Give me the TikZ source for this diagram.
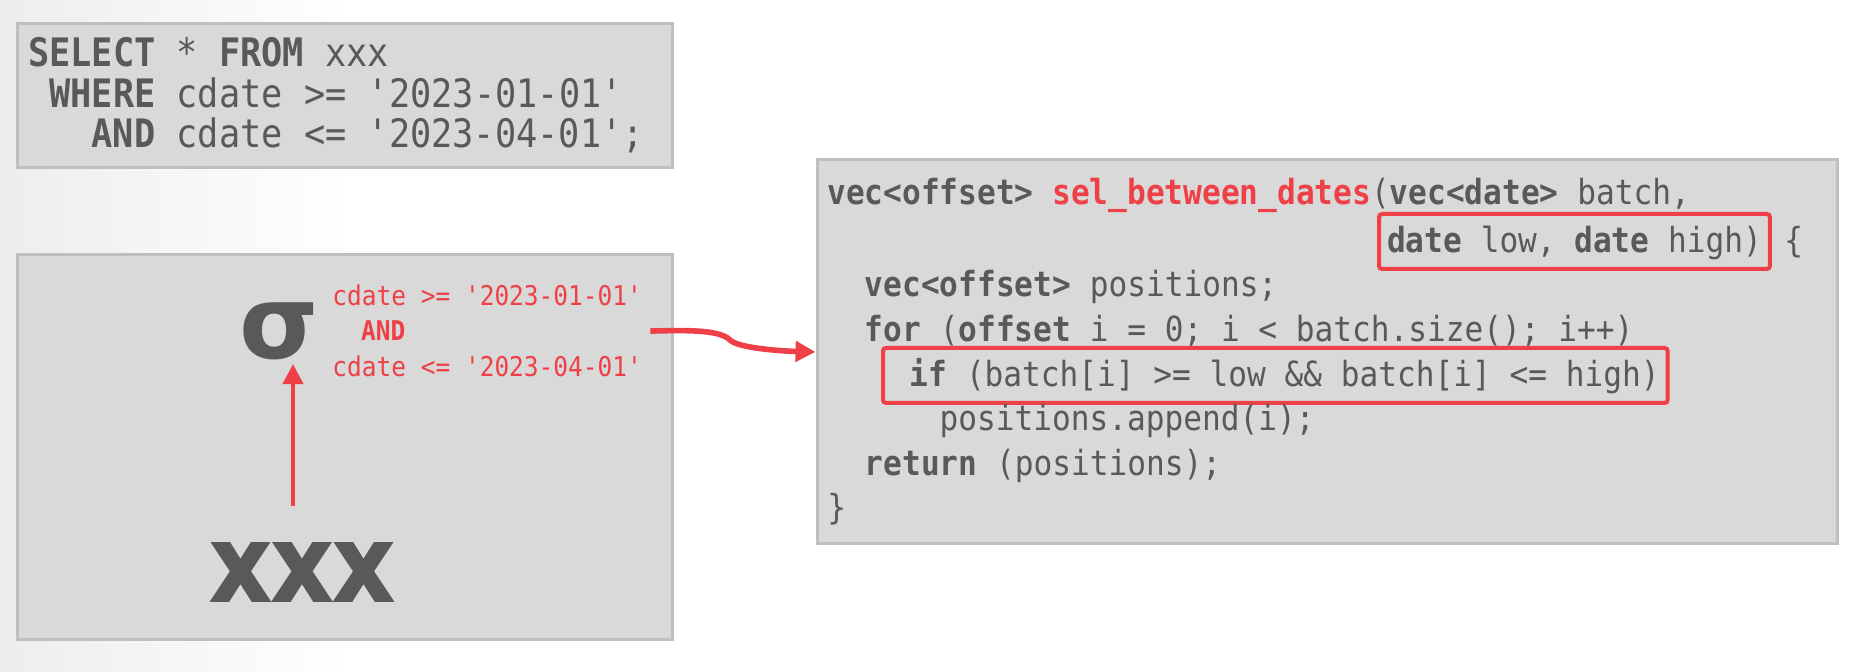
\documentclass[tikz,border=0pt]{standalone}
\usepackage{fontspec}
\setmonofont{DejaVu Sans Mono}[FakeStretch=0.9]
\newfontfamily\sigmafont{DejaVu Sans}
\newfontfamily\heavyfont{DejaVu Sans}[FakeStretch=0.9,FakeBold=1.5]
\usepackage{tikz}
\usetikzlibrary{positioning,arrows.meta}

\definecolor{panelfill}{HTML}{D9D9D9}
\definecolor{panelline}{HTML}{BFBFBF}
\definecolor{textgray}{HTML}{595959}
\definecolor{accent}{HTML}{EE4046}

\tikzset{
  panel/.style={draw=panelline, line width=1.5pt, fill=panelfill, inner sep=0pt},
  sqltext/.style={anchor=base west, inner sep=0pt, text=textgray, font=\ttfamily\fontsize{19.6}{20}\selectfont},
  codetext/.style={anchor=base west, inner sep=0pt, text=textgray, font=\ttfamily\fontsize{17.3}{18}\selectfont},
  condtext/.style={anchor=base west, inner sep=0pt, text=accent, font=\ttfamily\fontsize{13.6}{14}\selectfont},
  hilite/.style={codetext, draw=accent, line width=2pt, rounded corners=1.5pt, inner xsep=4pt, inner ysep=0pt, text height=19.5pt, text depth=8pt},
  redarrow/.style={draw=accent, -{Triangle[length=10pt,width=10pt]}}
}

\begin{document}
\begin{tikzpicture}[x=0.5pt,y=-0.5pt]
\useasboundingbox (0,0) rectangle (1858,672);
\fill[white] (0,0) rectangle (1858,672);
\shade[left color=black!7, right color=white] (0,0) rectangle (350,672);

% the three panels
\node[panel, minimum width=327.5pt, minimum height=72pt] (sqlbox) at (344.5,96) {};
\node[panel, minimum width=327.5pt, minimum height=192.5pt] (planbox) at (344.5,447.5) {};
\node[panel, minimum width=510pt, minimum height=192pt] (codebox) at (1327,352) {};

% query
\node[sqltext] (sql1) at (27.7,67) {\textbf{SELECT} * \textbf{FROM} xxx};
\node[sqltext] (sql2) at (48.9,108) {\textbf{WHERE} cdate >= '2023-01-01'};
\node[sqltext] (sql3) at (91.3,148) {\textbf{AND} cdate <= '2023-04-01';};

% plan
\node[inner sep=0pt, text=textgray, font=\sigmafont\bfseries\fontsize{51}{51}\selectfont] (sigma) at (279,331) {σ};
\node[inner sep=0pt, text=textgray, font=\heavyfont\bfseries\fontsize{53}{53}\selectfont] (xxx) at (302,572) {xxx};
\node[condtext] (cond1) at (332,306) {cdate >= '2023-01-01'};
\node[condtext] (cond2) at (360.8,341) {\textbf{AND}};
\node[condtext] (cond3) at (332,377) {cdate <= '2023-04-01'};
\draw[redarrow, line width=2pt] ([xshift=-4.5pt,yshift=18.5pt]xxx.north) -- ([xshift=7pt,yshift=-2pt]sigma.south);

% generated code
\node[codetext] (line1) at (827,205) {\textbf{vec<offset>} \textcolor{accent}{\textbf{sel\_between\_dates}}(\textbf{vec<date>} batch,};
\node[hilite] (datebox) at (1377,253) {\textbf{date} low, \textbf{date} high)};
\node[codetext, base right=6pt of datebox] (brace) {\{};
\node[codetext] (line3) at (864.4,297) {\textbf{vec<offset>} positions;};
\node[codetext] (line4) at (864.4,342) {\textbf{for} (\textbf{offset} i = 0; i < batch.size(); i++)};
\node[hilite] (ifbox) at (881,387) {\ \textbf{if} (batch[i] >= low \&\& batch[i] <= high)};
\node[codetext] (line6) at (939.2,431) {positions.append(i);};
\node[codetext] (line7) at (864.4,476) {\textbf{return} (positions);};
\node[codetext] (line8) at (827,520) {\}};

\draw[redarrow, line width=2.8pt] (cond1.east |- cond2) ++(8,0)
  .. controls (690,330) and (720,330) .. (730,340)
  .. controls (738,348) and (780,351) .. (codebox.west);
\end{tikzpicture}
\end{document}
